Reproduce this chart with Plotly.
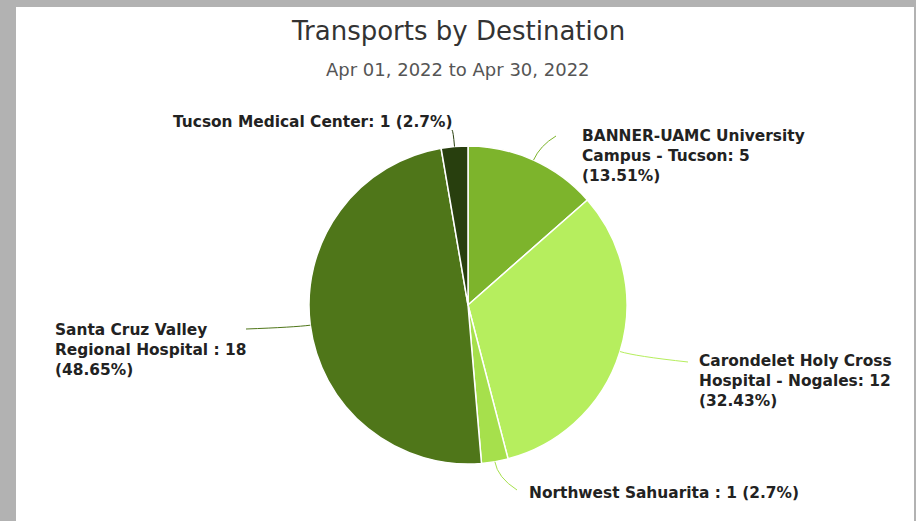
import math
import textwrap
import plotly.graph_objects as go

# ---------------- data ----------------
names = [
    "BANNER-UAMC University Campus - Tucson",
    "Carondelet Holy Cross Hospital - Nogales",
    "Northwest Sahuarita ",
    "Santa Cruz Valley Regional Hospital ",
    "Tucson Medical Center",
]
values = [5, 12, 1, 18, 1]
colors = ["#7db42c", "#b6ee5e", "#a6e04c", "#4f7619", "#283f0e"]

title_text = "Transports by Destination"
subtitle_text = "Apr 01, 2022 to Apr 30, 2022"

# ---------------- layout constants ----------------
W, H = 916, 521
CX, CY, R = 468, 305, 159          # pie centre / radius in pixels

# label placement: (left x, block centre y, wrap width, connector end x, y)
label_layout = [
    (580, 156, 22, 556, 136),
    (697, 381, 22, 688, 362),
    (527, 493, 40, 517, 490),
    (53, 350, 22, 246, 329),
    (171, 122, 40, 452, 130),
]


def fx(x):
    return x / W


def fy(y):
    return 1 - y / H


fig = go.Figure()

fig.add_trace(go.Pie(
    labels=names,
    values=values,
    sort=False,
    direction="clockwise",
    rotation=0,
    textinfo="none",
    hoverinfo="label+value+percent",
    marker=dict(colors=colors, line=dict(color="white", width=1.5)),
    domain=dict(x=[fx(CX - R), fx(CX + R)], y=[fy(CY + R), fy(CY - R)]),
    showlegend=False,
))

shapes = [
    dict(type="rect", xref="paper", yref="paper", x0=fx(16), x1=fx(914),
         y0=0, y1=fy(7), fillcolor="white", line=dict(width=0), layer="below"),
]
annotations = [
    dict(text=title_text, x=0.5, y=fy(31), xref="paper", yref="paper",
         xanchor="center", yanchor="middle", showarrow=False,
         font=dict(family="DejaVu Sans", size=26, color="#333333")),
    dict(text=subtitle_text, x=0.5, y=fy(69), xref="paper", yref="paper",
         xanchor="center", yanchor="middle", showarrow=False,
         font=dict(family="DejaVu Sans", size=18, color="#555555")),
]

total = sum(values)
cum = 0
for name, v, col, (lx, ly, ww, ex, ey) in zip(names, values, colors, label_layout):
    start = cum / total * 360
    cum += v
    end = cum / total * 360
    mid = math.radians((start + end) / 2)
    # connector from slice edge to label
    sx = CX + R * math.sin(mid)
    sy = CY - R * math.cos(mid)
    qx = CX + (R + 16) * math.sin(mid)
    qy = CY - (R + 16) * math.cos(mid)
    shapes.append(dict(
        type="path", xref="paper", yref="paper",
        path=f"M {fx(sx)},{fy(sy)} Q {fx(qx)},{fy(qy)} {fx(ex)},{fy(ey)}",
        line=dict(color=col, width=1),
    ))
    pct = f"{v / total * 100:.2f}".rstrip("0").rstrip(".")
    full = f"{name}: {v} ({pct}%)"
    annotations.append(dict(
        text="<br>".join(textwrap.wrap(full, ww)),
        x=fx(lx), y=fy(ly),
        xref="paper", yref="paper", xanchor="left", yanchor="middle",
        align="left", showarrow=False,
        font=dict(family="DejaVu Sans", size=15.4, color="#222222", weight="bold"),
    ))

fig.update_layout(
    width=W, height=H,
    margin=dict(l=0, r=0, t=0, b=0),
    paper_bgcolor="#b2b2b2",
    plot_bgcolor="#b2b2b2",
    shapes=shapes,
    annotations=annotations,
)

fig.write_html(
    "out.html",
    config={"displayModeBar": False},
    post_script="document.body.style.margin='0px';document.body.style.overflow='hidden';",
)
